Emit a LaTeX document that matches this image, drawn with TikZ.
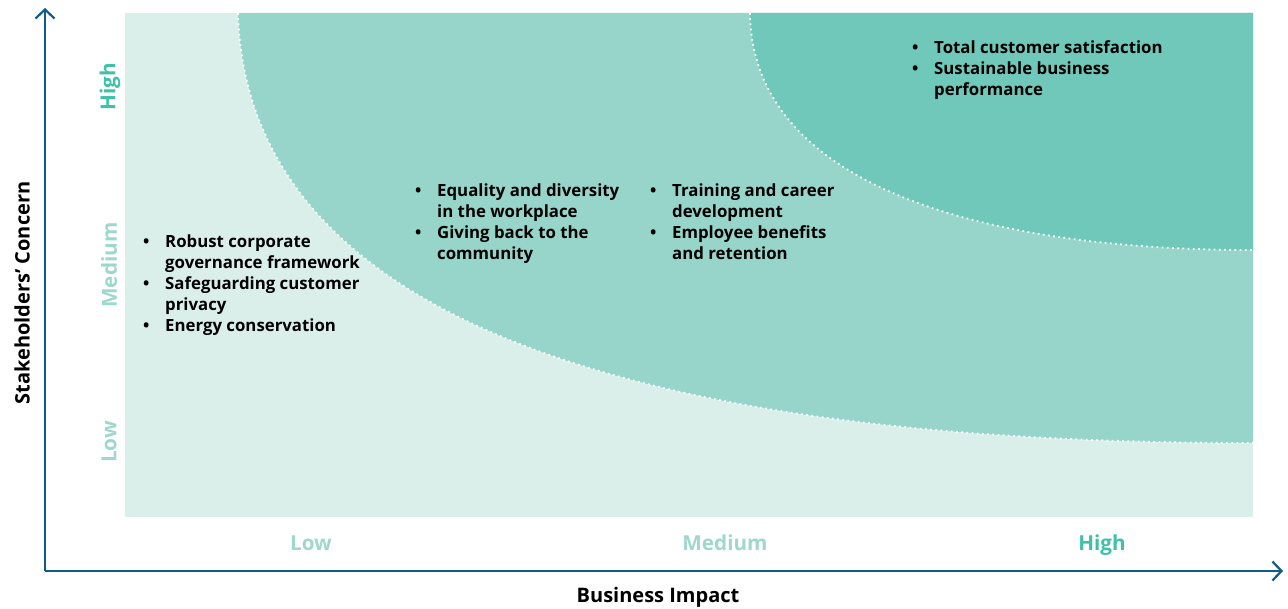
\documentclass[tikz,border=0pt]{standalone}
\usepackage{fontspec}
\setmainfont{Open Sans}
\usetikzlibrary{arrows.meta}
\definecolor{bglight}{HTML}{DBEFEA}
\definecolor{bgmid}{HTML}{97D5CB}
\definecolor{bgdark}{HTML}{6FC8B9}
\definecolor{axisblue}{HTML}{0F5C8C}
\definecolor{tickdark}{HTML}{40C0AA}
\definecolor{ticklight}{HTML}{9ED8CD}
\tikzset{
  axisline/.style={draw=axisblue, line width=2.2pt, -{Straight Barb[length=9pt,width=19pt,line width=2.2pt]}},
  boundary/.style={draw=white, line width=1.8pt, dash pattern=on 1.8pt off 3.4pt},
  ticklabel/.style={font=\bfseries\fontsize{20.7}{24}\selectfont, inner sep=0pt},
  axislabel/.style={font=\bfseries\fontsize{20}{24}\selectfont, text=black, inner sep=0pt},
  itemlist/.style={font=\bfseries\fontsize{16.8}{21}\selectfont, align=left, anchor=north west, inner sep=0pt, text=black},
}
\newcommand{\bul}{\makebox[20pt][l]{\hspace*{-2pt}\textbullet}}
\newcommand{\ind}{\hspace*{20pt}}
\begin{document}
\begin{tikzpicture}[x=1pt,y=-1pt]
\useasboundingbox (0,0) rectangle (1288,609);
% background regions
\fill[bglight] (125,13) rectangle (1253,517);
\fill[bgmid] (238,13) .. controls (248,355) and (730,443) .. (1253,443) -- (1253,13) -- cycle;
\fill[bgdark] (750,13) .. controls (752,185) and (980,250) .. (1253,250) -- (1253,13) -- cycle;
\draw[boundary] (238,13) .. controls (248,355) and (730,443) .. (1253,443);
\draw[boundary] (750,13) .. controls (752,185) and (980,250) .. (1253,250);
% axes
\coordinate (origin) at (45,571);
\coordinate (ytop) at (45,8);
\coordinate (xend) at (1283,571);
\draw[axisline] (origin) -- (ytop);
\draw[axisline] (origin) -- (xend);
% axis labels
\node[axislabel, rotate=90] (ylab) at (22,293) {Stakeholders’ Concern};
\node[axislabel] (xlab) at (658,597) {Business Impact};
% tick labels
\node[ticklabel, text=tickdark, rotate=90] (yhigh) at (110,87) {High};
\node[ticklabel, text=ticklight, rotate=90] (ymed) at (109,265) {Medium};
\node[ticklabel, text=ticklight, rotate=90] (ylow) at (109,442) {Low};
\node[ticklabel, text=ticklight] (xlow) at (311,543) {Low};
\node[ticklabel, text=ticklight] (xmed) at (725,543) {Medium};
\node[ticklabel, text=tickdark] (xhigh) at (1102,545) {High};
% lists
\node[itemlist] (listlow) at (145,235) {\bul Robust corporate\\\ind governance framework\\\bul Safeguarding customer\\\ind privacy\\\bul Energy conservation};
\node[itemlist] (listmida) at (417,184) {\bul Equality and diversity\\\ind in the workplace\\\bul Giving back to the\\\ind community};
\node[itemlist] (listmidb) at (652,184) {\bul Training and career\\\ind development\\\bul Employee benefits\\\ind and retention};
\node[itemlist] (listhigh) at (914,40) {\bul Total customer satisfaction\\\bul Sustainable business\\\ind performance};
\end{tikzpicture}
\end{document}
